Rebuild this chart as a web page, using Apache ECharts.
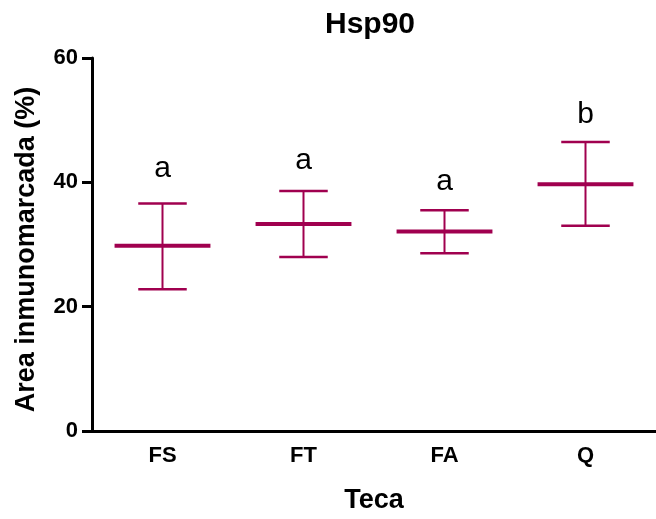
<!DOCTYPE html>
<html>
<head>
<meta charset="utf-8">
<script src="https://cdn.jsdelivr.net/npm/echarts@6/dist/echarts.min.js"></script>
<style>html,body{margin:0;padding:0;background:#fff}#c{width:656px;height:519px}</style>
</head>
<body>
<div id="c"></div>
<script>
const categories = ['FS', 'FT', 'FA', 'Q'];
const means = [29.8, 33.3, 32.1, 39.7];
const lower = [22.8, 28.0, 28.6, 33.0];
const upper = [36.6, 38.6, 35.5, 46.5];
const letters = ['a', 'a', 'a', 'b'];
const letterY = [42.2, 43.4, 40.1, 50.9];
const yTicks = [0, 20, 40, 60];

const color = '#A0004F';
const font = '"Liberation Sans", Arial, sans-serif';

const chart = echarts.init(document.getElementById('c'), null, {renderer: 'canvas'});

function renderItem(params, api) {
  const x = api.value(0);
  const pm = api.coord([x, api.value(1)]);
  const plo = api.coord([x, api.value(2)]);
  const phi = api.coord([x, api.value(3)]);
  const bw = api.size([1, 0])[0];
  const mh = bw * 0.34;
  const ch = bw * 0.172;
  return {
    type: 'group',
    children: [
      {type: 'line', shape: {x1: phi[0], y1: phi[1], x2: plo[0], y2: plo[1]}, style: {stroke: color, lineWidth: 2}},
      {type: 'line', shape: {x1: phi[0] - ch, y1: phi[1], x2: phi[0] + ch, y2: phi[1]}, style: {stroke: color, lineWidth: 2.5}},
      {type: 'line', shape: {x1: plo[0] - ch, y1: plo[1], x2: plo[0] + ch, y2: plo[1]}, style: {stroke: color, lineWidth: 2.5}},
      {type: 'line', shape: {x1: pm[0] - mh, y1: pm[1], x2: pm[0] + mh, y2: pm[1]}, style: {stroke: color, lineWidth: 4}}
    ]
  };
}

chart.setOption({
  animation: false,
  backgroundColor: '#fff',
  title: {
    text: 'Hsp90',
    left: 320,
    top: 5,
    textStyle: {fontFamily: font, fontSize: 30, fontWeight: 'bold', color: '#000'}
  },
  grid: {left: 92, right: -7, top: 58, bottom: 79, containLabel: false},
  xAxis: {
    type: 'category',
    data: categories,
    name: 'Teca',
    nameLocation: 'middle',
    nameGap: 56,
    nameTextStyle: {fontFamily: font, fontSize: 27, fontWeight: 'bold', color: '#000'},
    axisLine: {lineStyle: {color: '#000', width: 3}},
    axisTick: {alignWithLabel: true, length: 8, lineStyle: {color: '#000', width: 3}},
    axisLabel: {fontFamily: font, fontSize: 22, fontWeight: 'bold', color: '#000', margin: 14},
    splitLine: {show: false}
  },
  yAxis: {
    type: 'value',
    min: yTicks[0],
    max: yTicks[yTicks.length - 1],
    interval: 20,
    name: 'Area inmunomarcada (%)',
    nameLocation: 'middle',
    nameGap: 52,
    nameTextStyle: {fontFamily: font, fontSize: 27, fontWeight: 'bold', color: '#000', padding: [0, 10, 0, 0]},
    axisLine: {show: true, lineStyle: {color: '#000', width: 3}},
    axisTick: {show: true, length: 10, lineStyle: {color: '#000', width: 3}},
    axisLabel: {fontFamily: font, fontSize: 22, fontWeight: 'bold', color: '#000', margin: 14},
    splitLine: {show: false}
  },
  series: [
    {
      type: 'custom',
      renderItem: renderItem,
      encode: {x: 0, y: [1, 2, 3]},
      data: categories.map((c, i) => [i, means[i], lower[i], upper[i]]),
      z: 3
    },
    {
      type: 'scatter',
      symbolSize: 0,
      itemStyle: {opacity: 1},
      data: categories.map((c, i) => [i, letterY[i], letters[i]]),
      label: {
        show: true,
        position: 'inside',
        formatter: p => p.data[2],
        fontFamily: font,
        fontSize: 30,
        color: '#000',
        opacity: 1,
        textBorderWidth: 0
      },
      z: 4
    }
  ]
});
</script>
</body>
</html>
